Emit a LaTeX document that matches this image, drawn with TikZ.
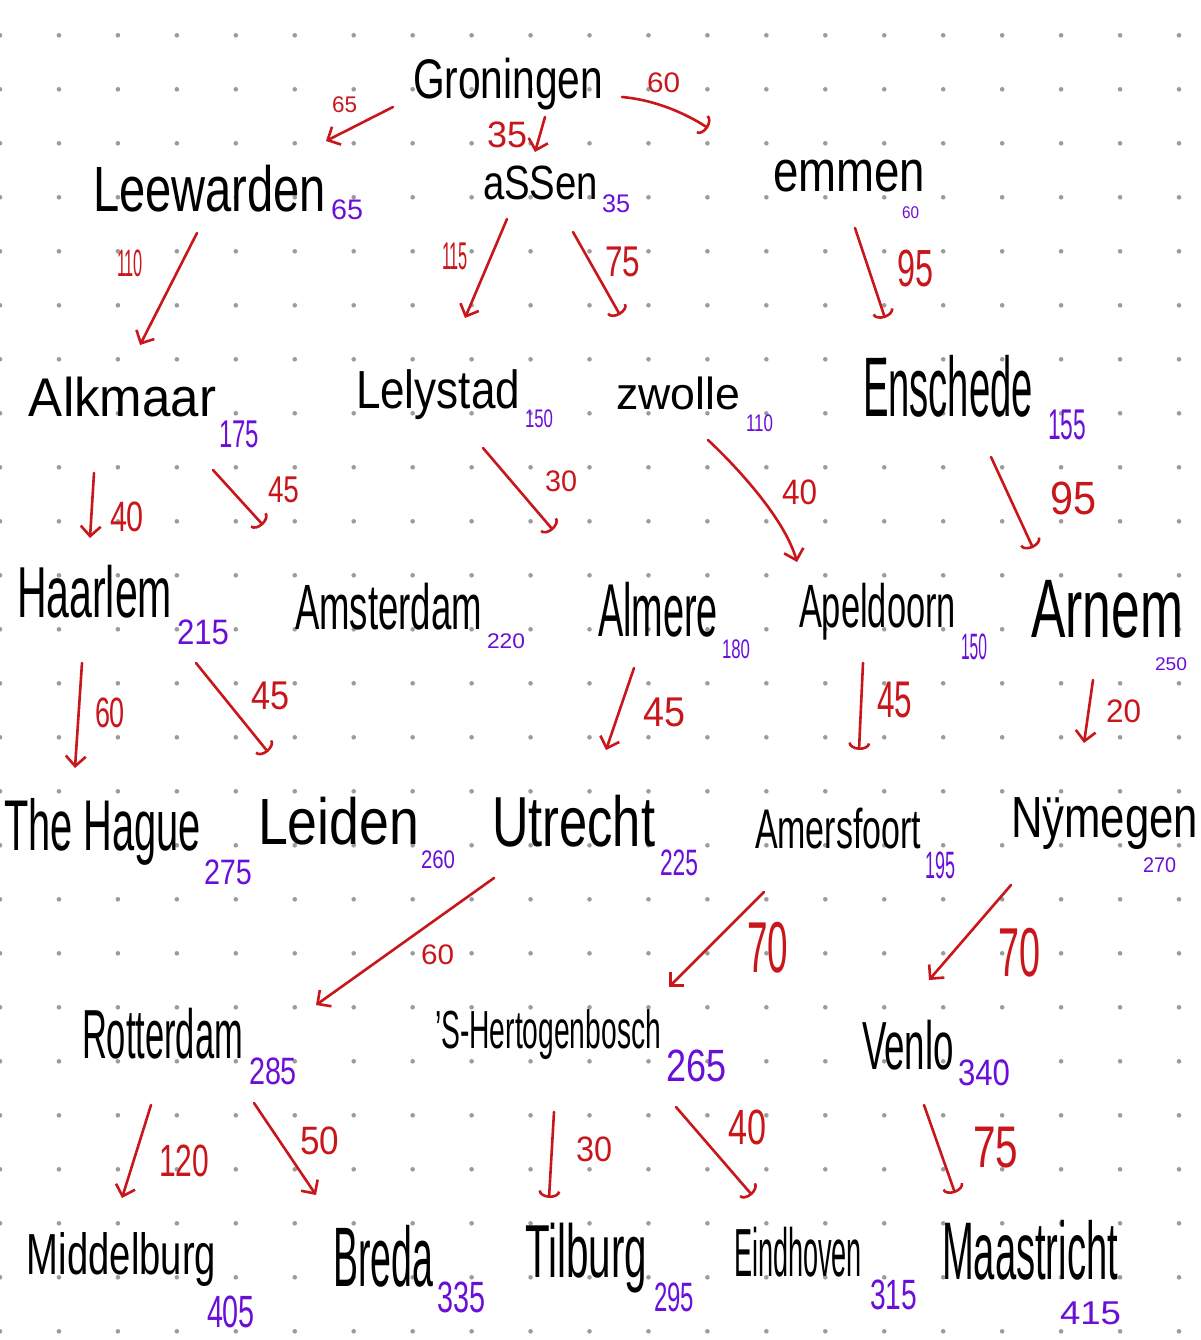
\documentclass[tikz,border=0pt]{standalone}
\usepackage{fontspec}
\setmainfont{Liberation Sans}
\usepackage{graphicx}
\usetikzlibrary{arrows.meta}
\definecolor{edgered}{HTML}{C8161A}
\definecolor{costpurple}{HTML}{6A0FD8}
\definecolor{dotgray}{HTML}{9C9C9C}
\newcommand{\fitbox}[3]{\resizebox*{#1pt}{#2pt}{#3}}
\tikzset{
  lab/.style={anchor=north west, inner sep=0pt, outer sep=0pt},
  city/.style={lab, text=black},
  cost/.style={lab, text=costpurple},
  wt/.style={lab, text=edgered},
  edge/.style={draw=edgered, line width=2.6pt, line cap=round, line join=round},
  vhead/.style={-{Straight Barb[length=10pt,width=20pt]}},
  hookhead/.style={-{Arc Barb[length=7pt,width=22pt]}}
}
\begin{document}
\begin{tikzpicture}[x=1pt,y=-1pt]
\fill[white] (0,0) rectangle (1200,1340);
\useasboundingbox (0,0) rectangle (1200,1340);
% dot grid
\foreach \i in {0,...,20}{
  \foreach \j in {0,...,24}{
    \fill[dotgray] ({58.95*\i},{35.3+54*\j}) circle (2.3pt);
  }
}
% cities
\node[city] (gro) at (413,58) {\fitbox{190}{52}{Groningen}};
\node[city] (lee) at (93,165) {\fitbox{233}{47}{Leewarden}};
\node[city] (ass) at (483,166) {\fitbox{115}{34}{aSSen}};
\node[city] (emm) at (773,160) {\fitbox{152}{32}{emmen}};
\node[city] (alk) at (29,377) {\fitbox{187}{40}{Alkmaar}};
\node[city] (lel) at (356,370) {\fitbox{164}{50}{Lelystad}};
\node[city] (zwo) at (616,377) {\fitbox{124}{33}{zwolle}};
\node[city] (ens) at (863,355) {\fitbox{170}{62}{Enschede}};
\node[city] (haa) at (17,565) {\fitbox{155}{53}{Haarlem}};
\node[city] (ams) at (295,583) {\fitbox{187}{47}{Amsterdam}};
\node[city] (alm) at (598,582) {\fitbox{120}{55}{Almere}};
\node[city] (ape) at (799,583) {\fitbox{157}{57}{Apeldoorn}};
\node[city] (arn) at (1031,580) {\fitbox{152}{58}{Arnem}};
\node[city] (hag) at (4,798) {\fitbox{197}{67}{The Hague}};
\node[city] (lei) at (258,797) {\fitbox{161}{48}{Leiden}};
\node[city] (utr) at (492,795) {\fitbox{163}{52}{Utrecht}};
\node[city] (ame) at (755,808) {\fitbox{166}{41}{Amersfoort}};
\node[city] (nij) at (1011,798) {\fitbox{187}{52}{Nÿmegen}};
\node[city] (rot) at (82,1008) {\fitbox{161}{51}{Rotterdam}};
\node[city] (her) at (435,1010) {\fitbox{226}{50}{'S-Hertogenbosch}};
\node[city] (ven) at (862,1020) {\fitbox{92}{50}{Venlo}};
\node[city] (mid) at (27,1233) {\fitbox{189}{54}{Middelburg}};
\node[city] (bre) at (333,1225) {\fitbox{100}{62}{Breda}};
\node[city] (til) at (525,1223) {\fitbox{122}{70}{Tilburg}};
\node[city] (ein) at (734,1227) {\fitbox{128}{50}{Eindhoven}};
\node[city] (maa) at (942,1220) {\fitbox{176}{60}{Maastricht}};
% costs
\node[cost] (c-lee) at (331,200) {\fitbox{32}{20}{65}};
\node[cost] (c-ass) at (602,195) {\fitbox{28}{18}{35}};
\node[cost] (c-emm) at (902,207) {\fitbox{17}{12}{60}};
\node[cost] (c-alk) at (219,421) {\fitbox{40}{27}{175}};
\node[cost] (c-lel) at (525,410) {\fitbox{28}{18}{150}};
\node[cost] (c-zwo) at (746,415) {\fitbox{27}{17}{110}};
\node[cost] (c-ens) at (1048,410) {\fitbox{38}{30}{155}};
\node[cost] (c-haa) at (177,620) {\fitbox{52}{25}{215}};
\node[cost] (c-ams) at (487,634) {\fitbox{38}{15}{220}};
\node[cost] (c-alm) at (722,640) {\fitbox{28}{19}{180}};
\node[cost] (c-ape) at (961,634) {\fitbox{26}{26}{150}};
\node[cost] (c-arn) at (1155,658) {\fitbox{32}{13}{250}};
\node[cost] (c-hag) at (204,860) {\fitbox{48}{25}{275}};
\node[cost] (c-lei) at (421,851) {\fitbox{34}{18}{260}};
\node[cost] (c-utr) at (660,850) {\fitbox{38}{26}{225}};
\node[cost] (c-ame) at (925,852) {\fitbox{30}{27}{195}};
\node[cost] (c-nij) at (1143,858) {\fitbox{33}{15}{270}};
\node[cost] (c-rot) at (249,1058) {\fitbox{48}{27}{285}};
\node[cost] (c-her) at (666,1050) {\fitbox{60}{32}{265}};
\node[cost] (c-ven) at (958,1060) {\fitbox{52}{26}{340}};
\node[cost] (c-mid) at (207,1296) {\fitbox{48}{32}{405}};
\node[cost] (c-bre) at (437,1282) {\fitbox{48}{31}{335}};
\node[cost] (c-til) at (654,1283) {\fitbox{40}{29}{295}};
\node[cost] (c-ein) at (870,1280) {\fitbox{47}{30}{315}};
\node[cost] (c-maa) at (1060,1302) {\fitbox{61}{23}{415}};
% edge weights
\node[wt] (w-gro-lee) at (332,97) {\fitbox{25}{16}{65}};
\node[wt] (w-gro-ass) at (487,122) {\fitbox{40}{26}{35}};
\node[wt] (w-gro-emm) at (647,73) {\fitbox{33}{20}{60}};
\node[wt] (w-lee-alk) at (117,250) {\fitbox{26}{27}{110}};
\node[wt] (w-ass-lel) at (442,243) {\fitbox{26}{27}{115}};
\node[wt] (w-ass-zwo) at (605,247) {\fitbox{35}{30}{75}};
\node[wt] (w-emm-ens) at (897,250) {\fitbox{36}{37}{95}};
\node[wt] (w-alk-haa) at (110,502) {\fitbox{34}{30}{40}};
\node[wt] (w-alk-ams) at (268,477) {\fitbox{31}{26}{45}};
\node[wt] (w-lel-alm) at (545,471) {\fitbox{32}{21}{30}};
\node[wt] (w-zwo-ape) at (782,480) {\fitbox{35}{25}{40}};
\node[wt] (w-ens-arn) at (1050,482) {\fitbox{46}{33}{95}};
\node[wt] (w-haa-hag) at (95,698) {\fitbox{30}{30}{60}};
\node[wt] (w-haa-lei) at (251,682) {\fitbox{38}{28}{45}};
\node[wt] (w-alm-utr) at (643,698) {\fitbox{42}{29}{45}};
\node[wt] (w-ape-ame) at (877,682) {\fitbox{35}{36}{45}};
\node[wt] (w-arn-nij) at (1106,700) {\fitbox{35}{23}{20}};
\node[wt] (w-utr-rot) at (421,945) {\fitbox{33}{20}{60}};
\node[wt] (w-ame-her) at (747,922) {\fitbox{41}{51}{70}};
\node[wt] (w-nij-ven) at (998,928) {\fitbox{42}{49}{70}};
\node[wt] (w-rot-mid) at (159,1145) {\fitbox{50}{32}{120}};
\node[wt] (w-rot-bre) at (300,1127) {\fitbox{39}{28}{50}};
\node[wt] (w-her-til) at (576,1137) {\fitbox{36}{25}{30}};
\node[wt] (w-her-ein) at (728,1110) {\fitbox{38}{35}{40}};
\node[wt] (w-ven-maa) at (973,1127) {\fitbox{45}{41}{75}};
% connector end points
\coordinate (gro-lee-s) at (393,107); \coordinate (gro-lee-e) at (326,141);
\coordinate (gro-ass-s) at (545,117); \coordinate (gro-ass-e) at (535,152);
\coordinate (gro-emm-s) at (622,97);  \coordinate (gro-emm-e) at (708,128);
\coordinate (lee-alk-s) at (197,233); \coordinate (lee-alk-e) at (140,345);
\coordinate (ass-lel-s) at (507,219); \coordinate (ass-lel-e) at (465,318);
\coordinate (ass-zwo-s) at (573,232); \coordinate (ass-zwo-e) at (620,315);
\coordinate (emm-ens-s) at (855,228); \coordinate (emm-ens-e) at (885,318);
\coordinate (alk-haa-s) at (94,473);  \coordinate (alk-haa-e) at (90,538);
\coordinate (alk-ams-s) at (213,470); \coordinate (alk-ams-e) at (263,525);
\coordinate (lel-alm-s) at (483,448); \coordinate (lel-alm-e) at (553,530);
\coordinate (zwo-ape-s) at (708,440); \coordinate (zwo-ape-e) at (797,562);
\coordinate (ens-arn-s) at (991,457); \coordinate (ens-arn-e) at (1033,548);
\coordinate (haa-hag-s) at (82,663);  \coordinate (haa-hag-e) at (75,768);
\coordinate (haa-lei-s) at (196,663); \coordinate (haa-lei-e) at (268,752);
\coordinate (alm-utr-s) at (634,668); \coordinate (alm-utr-e) at (606,750);
\coordinate (ape-ame-s) at (863,663); \coordinate (ape-ame-e) at (859,750);
\coordinate (arn-nij-s) at (1093,680); \coordinate (arn-nij-e) at (1084,743);
\coordinate (utr-rot-s) at (494,878); \coordinate (utr-rot-e) at (316,1005);
\coordinate (ame-her-s) at (764,892); \coordinate (ame-her-e) at (669,987);
\coordinate (nij-ven-s) at (1011,885); \coordinate (nij-ven-e) at (929,980);
\coordinate (rot-mid-s) at (151,1105); \coordinate (rot-mid-e) at (122,1198);
\coordinate (rot-bre-s) at (254,1103); \coordinate (rot-bre-e) at (316,1195);
\coordinate (her-til-s) at (554,1112); \coordinate (her-til-e) at (549,1198);
\coordinate (her-ein-s) at (676,1107); \coordinate (her-ein-e) at (752,1195);
\coordinate (ven-maa-s) at (924,1105); \coordinate (ven-maa-e) at (955,1193);
% connectors
\draw[edge, vhead] (gro-lee-s) -- (gro-lee-e);
\draw[edge, vhead] (gro-ass-s) -- (gro-ass-e);
\draw[edge, hookhead] (gro-emm-s) .. controls (655,100) and (685,113) .. (gro-emm-e);
\draw[edge, vhead] (lee-alk-s) -- (lee-alk-e);
\draw[edge, vhead] (ass-lel-s) -- (ass-lel-e);
\draw[edge, hookhead] (ass-zwo-s) -- (ass-zwo-e);
\draw[edge, hookhead] (emm-ens-s) -- (emm-ens-e);
\draw[edge, vhead] (alk-haa-s) -- (alk-haa-e);
\draw[edge, hookhead] (alk-ams-s) -- (alk-ams-e);
\draw[edge, hookhead] (lel-alm-s) -- (lel-alm-e);
\draw[edge, vhead] (zwo-ape-s) .. controls (740,470) and (785,520) .. (zwo-ape-e);
\draw[edge, hookhead] (ens-arn-s) -- (ens-arn-e);
\draw[edge, vhead] (haa-hag-s) -- (haa-hag-e);
\draw[edge, hookhead] (haa-lei-s) -- (haa-lei-e);
\draw[edge, vhead] (alm-utr-s) -- (alm-utr-e);
\draw[edge, hookhead] (ape-ame-s) -- (ape-ame-e);
\draw[edge, vhead] (arn-nij-s) -- (arn-nij-e);
\draw[edge, vhead] (utr-rot-s) -- (utr-rot-e);
\draw[edge, vhead] (ame-her-s) -- (ame-her-e);
\draw[edge, vhead] (nij-ven-s) -- (nij-ven-e);
\draw[edge, vhead] (rot-mid-s) -- (rot-mid-e);
\draw[edge, vhead] (rot-bre-s) -- (rot-bre-e);
\draw[edge, hookhead] (her-til-s) -- (her-til-e);
\draw[edge, hookhead] (her-ein-s) -- (her-ein-e);
\draw[edge, hookhead] (ven-maa-s) -- (ven-maa-e);
\end{tikzpicture}
\end{document}
